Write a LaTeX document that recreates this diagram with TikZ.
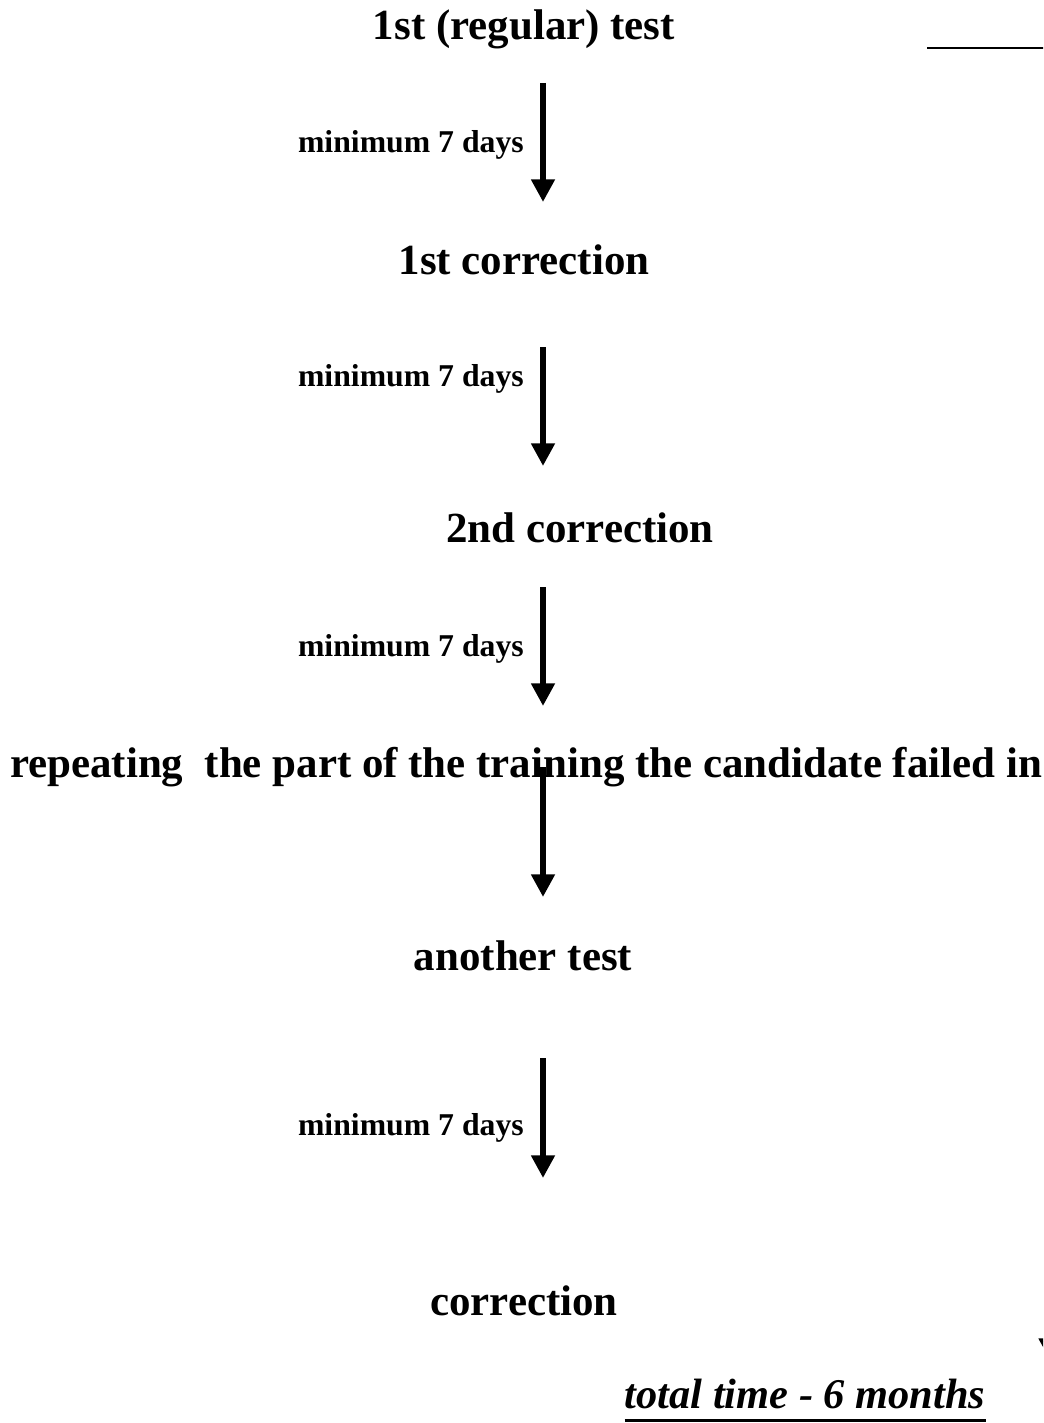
\documentclass[tikz,border=0pt]{standalone}
\usepackage{fontspec}
\setmainfont{Liberation Serif}
\usetikzlibrary{arrows.meta}

\begin{document}
\begin{tikzpicture}[x=0.75pt, y=-0.75pt,
  big/.style={font=\fontsize{32.2}{36}\selectfont\bfseries, anchor=base, inner sep=0pt},
  days/.style={font=\fontsize{23.8}{28}\selectfont\bfseries, anchor=base east, inner sep=0pt},
  down/.style={line width=5pt, -{Triangle[width=17pt,length=17pt]}}]
\useasboundingbox (0,0) rectangle (1043,1423);
\clip (0,0) rectangle (1043,1423);

%steps
\node[big] (regular) at (524,40) {1st (regular) test};
\node[big] (corrone) at (524,274) {1st correction};
\node[big] (corrtwo) at (580,542) {2nd correction};
\node[big] (repeat) at (526,777) {repeating\ \ the part of the training the candidate failed in};
\node[big] (another) at (523,970) {another test};
\node[big] (corr) at (524,1315) {correction};
\node[big, font=\fontsize{31.8}{36}\selectfont\bfseries\itshape] (total) at (805,1408) {total time - 6 months};
\draw[line width=2.4pt] ([yshift=-9pt]total.south west) -- ([yshift=-9pt]total.south east);

%arrows
\foreach \n/\ya/\yb in {1/83/202, 2/347/466, 3/587/706, 4/767/897, 5/1058/1178} {
  \coordinate (top\n) at (543,\ya);
  \coordinate (tip\n) at (543,\yb);
  \draw[down] (top\n) -- (tip\n);
}
\foreach \n/\y in {1/153, 2/386, 3/656, 5/1135} {\node[days] (days\n) at (524,\y) {minimum 7 days};}

%cut off at the edge
\coordinate (rulestart) at (927,48);
\coordinate (ruleend) at (1050,48);
\draw[line width=1.6pt] (rulestart) -- (ruleend);
\coordinate (offtop) at (1050.5,1290);
\coordinate (offtip) at (1050.5,1361);
\draw[down] (offtop) -- (offtip);
\end{tikzpicture}
\end{document}
